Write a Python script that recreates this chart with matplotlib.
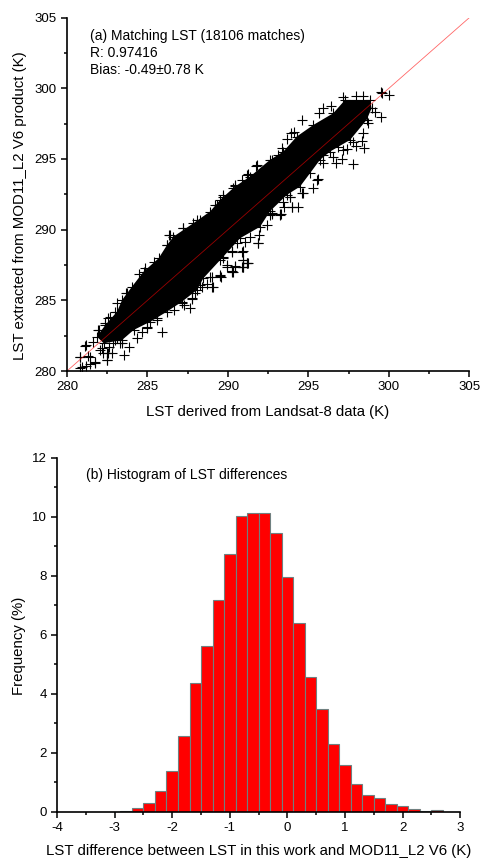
import matplotlib
matplotlib.use('Agg')
import matplotlib.pyplot as plt
from matplotlib.ticker import MultipleLocator

plt.rcParams['font.family'] = ['Liberation Sans', 'DejaVu Sans']
plt.rcParams['axes.unicode_minus'] = False

# edge of the solid black band in panel (a)
core_upper_x = [281.86, 282.38, 283.11, 283.42, 284.04, 284.76, 285.69, 286.21, 286.61, 287.85, 288.89,
                289.51, 290.44, 291.37, 292.61, 293.44, 294.27, 295.30, 296.54, 297.27, 298.82, 298.92]
core_upper_y = [282.43, 283.25, 284.20, 285.02, 285.97, 287.03, 287.97, 288.90, 289.50, 290.45, 291.28,
                292.10, 293.05, 293.75, 294.93, 295.52, 296.58, 297.40, 298.23, 299.17, 299.17, 298.58]
core_lower_x = [298.61, 297.58, 296.34, 295.71, 295.09, 294.47, 293.65, 292.61, 291.99, 290.75,
                289.71, 288.47, 288.07, 287.14, 286.21, 285.18, 284.14, 283.42, 282.28]
core_lower_y = [297.76, 296.34, 295.52, 294.93, 293.98, 293.04, 292.45, 291.30, 290.20, 289.39,
                288.09, 286.56, 285.73, 284.90, 284.20, 283.49, 282.90, 282.19, 281.96]

# single crosses that stand out around the band
point_x = [299.48, 299.55, 300.02, 299.52, 299.15, 298.47, 298.34, 297.78, 297.93, 297.06,
           296.71, 296.54, 295.61, 295.26, 294.37, 294.00, 293.48, 293.25, 292.71, 291.95,
           291.88, 291.22, 290.95, 290.89, 290.43, 290.27, 289.92, 289.54, 289.05, 288.67,
           288.36, 290.95, 290.23, 297.16, 297.95, 298.40, 296.38, 295.92, 295.67, 294.62,
           294.10, 293.89, 293.64, 293.33, 291.74, 291.22, 290.85, 290.33, 289.71, 289.30,
           298.40, 298.72, 297.78, 297.16, 295.92, 295.50, 294.57, 293.85, 292.61, 291.37,
           290.54, 289.50, 288.88, 285.88, 287.64, 284.33, 283.87, 283.56, 282.47, 281.74,
           281.18, 280.81, 281.18, 280.81, 281.43, 281.95, 282.57, 282.05, 282.57, 282.88,
           283.40, 284.95, 285.57, 287.12, 287.74, 288.26, 288.99, 289.50, 290.27, 290.91,
           291.20, 290.85, 291.89, 293.29, 293.98, 284.49, 284.85, 285.41, 286.40, 287.23,
           288.26, 283.71, 282.98, 282.26, 281.64, 283.09, 282.26,
           281.14, 280.83, 281.28, 281.76, 280.93, 281.45, 282.48, 282.80, 282.48, 282.17,
           282.59, 283.31, 283.00, 284.97, 284.66, 285.59, 287.25, 286.63, 287.97, 287.76,
           283.69, 283.11, 282.69, 282.38, 281.97, 286.21, 291.06, 290.23, 289.71, 290.96,
           291.20, 290.96, 290.44, 289.92, 290.29, 289.51, 288.99, 293.23, 292.72, 292.41,
           286.36, 287.23, 288.06, 289.20, 289.71, 290.44, 291.20, 291.78, 292.72, 293.13,
           297.37, 296.85, 295.92, 294.68, 293.85, 293.44]
point_y = [299.76, 299.68, 299.50, 297.95, 298.35, 295.75, 296.25, 294.62, 295.92, 294.98,
           294.69, 295.16, 293.56, 292.92, 291.63, 291.58, 291.63, 291.11, 291.11, 289.62,
           289.03, 287.62, 287.85, 287.33, 287.43, 287.03, 287.38, 286.67, 285.92, 286.15,
           285.96, 288.49, 288.49, 299.41, 299.48, 299.48, 298.77, 298.58, 298.23, 297.76,
           296.93, 296.82, 296.39, 295.75, 294.50, 293.91, 293.51, 292.92, 292.33, 291.74,
           296.80, 297.52, 296.23, 295.64, 294.69, 293.51, 292.57, 292.33, 291.04, 289.50,
           289.03, 287.85, 286.67, 282.78, 284.43, 282.31, 281.67, 281.13, 280.78, 280.54,
           280.38, 281.00, 281.81, 280.19, 281.00, 282.90, 283.73, 281.48, 281.25, 281.96,
           281.96, 283.14, 283.73, 284.79, 285.14, 286.08, 285.97, 286.79, 287.10, 287.38,
           287.62, 288.44, 289.03, 291.09, 291.58, 286.86, 287.31, 287.74, 289.62, 290.10,
           290.68, 285.49, 284.20, 282.55, 282.07, 282.31, 281.25,
           281.79, 281.00, 281.06, 280.66, 280.30, 280.50, 281.25, 281.25, 280.78, 281.60,
           281.72, 281.96, 282.19, 283.02, 282.78, 283.61, 284.67, 284.32, 285.50, 285.07,
           285.54, 284.79, 283.84, 283.37, 282.90, 288.92, 289.15, 288.45, 287.97, 287.85,
           287.62, 287.34, 287.38, 287.50, 287.03, 286.72, 286.68, 291.04, 291.16, 290.33,
           289.62, 290.14, 290.69, 291.75, 292.46, 293.16, 293.87, 294.58, 294.93, 295.29,
           295.68, 295.87, 295.28, 292.57, 292.33, 291.98]

# histogram of LST differences, centre of each 0.2 K bin and its frequency (%)
bin_centers = [-2.8, -2.6, -2.4, -2.2, -2.0, -1.8, -1.6, -1.4, -1.2, -1.0, -0.8, -0.6, -0.4, -0.2,
               0.0, 0.2, 0.4, 0.6, 0.8, 1.0, 1.2, 1.4, 1.6, 1.8, 2.0, 2.2, 2.4, 2.6]
frequency = [0.03, 0.11, 0.28, 0.69, 1.38, 2.56, 4.36, 5.62, 7.17, 8.72, 10.01, 10.14, 10.14, 9.44,
             7.95, 6.39, 4.55, 3.47, 2.28, 1.60, 0.93, 0.58, 0.45, 0.27, 0.19, 0.10, 0.03, 0.06]
bin_width = 0.2


def style_axes(ax):
    ax.spines['top'].set_visible(False)
    ax.spines['right'].set_visible(False)
    ax.spines['left'].set_linewidth(1.2)
    ax.spines['bottom'].set_linewidth(1.2)
    ax.tick_params(which='major', length=4.5, width=1.1, labelsize=9.5, pad=3)
    ax.tick_params(which='minor', length=2.5, width=1.1)


fig = plt.figure(figsize=(4.82, 8.60), dpi=100)
W, H = 482.0, 860.0

# panel (a)
ax1 = fig.add_axes([67 / W, 1 - 371 / H, 402.5 / W, 353.5 / H])
ax1.fill(core_upper_x + core_lower_x, core_upper_y + core_lower_y, color='black', lw=0)
ax1.plot(core_upper_x + core_lower_x, core_upper_y + core_lower_y, ls='none', marker='+',
         ms=6.5, mew=0.8, color='black')
ax1.plot(point_x, point_y, ls='none', marker='+', ms=6.5, mew=0.8, color='black')
ax1.plot([280, 305], [280, 305], color='red', lw=0.6, alpha=0.6)
ax1.set_xlim(280, 305)
ax1.set_ylim(280, 305)
ax1.xaxis.set_major_locator(MultipleLocator(5))
ax1.xaxis.set_minor_locator(MultipleLocator(2.5))
ax1.yaxis.set_major_locator(MultipleLocator(5))
ax1.yaxis.set_minor_locator(MultipleLocator(2.5))
style_axes(ax1)
ax1.set_xlabel('LST derived from Landsat-8 data (K)', fontsize=10.85)
ax1.xaxis.set_label_coords(268 / W, 1 - 411.5 / H, transform=fig.transFigure)
ax1.xaxis.label.set_va('center')
ax1.set_ylabel('LST extracted from MOD11_L2 V6 product (K)', fontsize=10.85)
ax1.yaxis.set_label_coords(20.5 / W, 1 - 206 / H, transform=fig.transFigure)
ax1.yaxis.label.set_va('center')
ax1.text(90 / W, 1 - 36 / H, '(a) Matching LST (18106 matches)', transform=fig.transFigure,
         fontsize=10, va='center')
ax1.text(90 / W, 1 - 53 / H, 'R: 0.97416', transform=fig.transFigure, fontsize=10, va='center')
ax1.text(90 / W, 1 - 70 / H, 'Bias: -0.49\u00b10.78 K', transform=fig.transFigure, fontsize=10, va='center')

# panel (b)
ax2 = fig.add_axes([57 / W, 1 - 811.7 / H, 403.3 / W, 354 / H])
ax2.bar(bin_centers, frequency, width=bin_width, color='red', edgecolor='#708080', linewidth=0.8)
ax2.set_xlim(-4, 3)
ax2.set_ylim(0, 12)
ax2.xaxis.set_major_locator(MultipleLocator(1))
ax2.xaxis.set_minor_locator(MultipleLocator(0.5))
ax2.yaxis.set_major_locator(MultipleLocator(2))
ax2.yaxis.set_minor_locator(MultipleLocator(1))
style_axes(ax2)
ax2.set_xlabel('LST difference between LST in this work and MOD11_L2 V6 (K)', fontsize=10.85)
ax2.xaxis.set_label_coords(258.5 / W, 1 - 851.5 / H, transform=fig.transFigure)
ax2.xaxis.label.set_va('center')
ax2.set_ylabel('Frequency (%)', fontsize=10.85)
ax2.yaxis.set_label_coords(19.5 / W, 1 - 646 / H, transform=fig.transFigure)
ax2.yaxis.label.set_va('center')
ax2.text(86 / W, 1 - 475 / H, '(b) Histogram of LST differences', transform=fig.transFigure,
         fontsize=10, va='center')

fig.savefig('out.png', dpi=100)
